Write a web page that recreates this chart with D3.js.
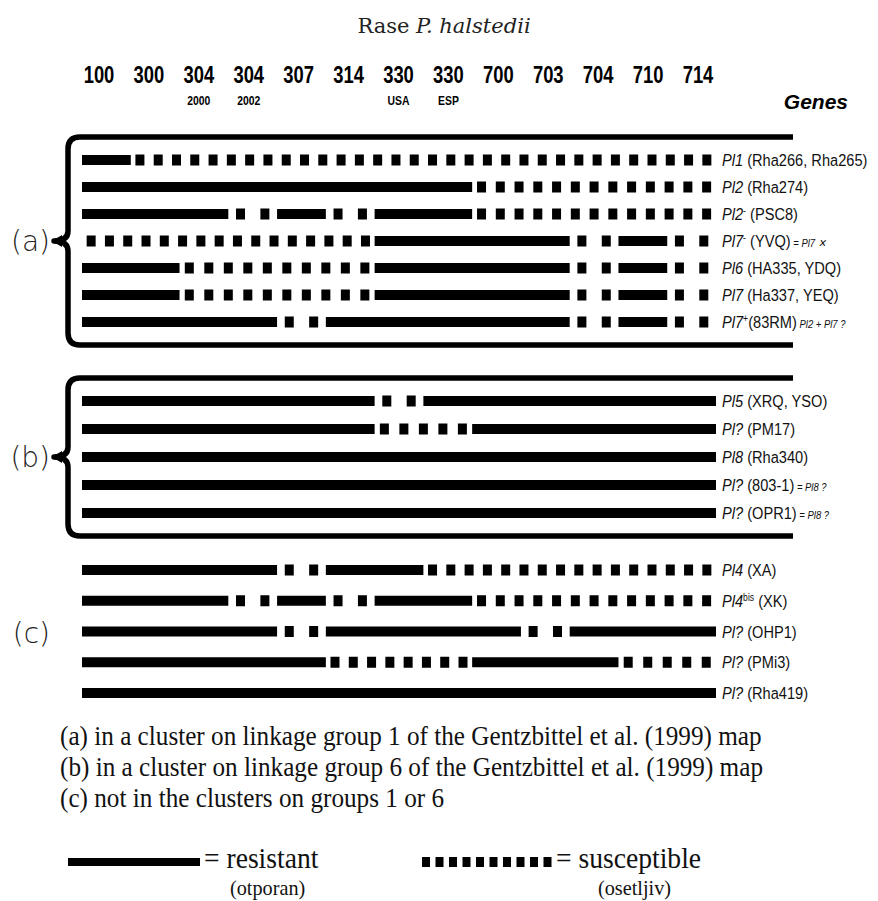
<html>
  <head>
    <meta charset="UTF-8">
    <title>Rase P. halstedii</title>
    <script src="https://cdnjs.cloudflare.com/ajax/libs/d3/7.8.5/d3.min.js"></script>
    <style>
      body { margin: 0; background: #fff; }
      svg { display: block; }
      .race { font-family: 'Liberation Sans', Arial, sans-serif; font-weight: bold; }
      .gene { font-family: 'Liberation Sans', Arial, sans-serif; fill: #111; }
      .serif { font-family: 'Liberation Serif', 'Times New Roman', serif; fill: #111; }
      .grp { font-family: 'DejaVu Sans', sans-serif; font-weight: 300; fill: #222; }
    </style>
  </head>
  <body>
    <svg id="chart"></svg>
    <script>
      // races of P. halstedii (columns)
      const races = ['100', '300', '304', '304', '307', '314', '330', '330', '700', '703', '704', '710', '714']
      const raceSub = ['', '', '2000', '2002', '', '', 'USA', 'ESP', '', '', '', '', '']

      // genes (rows)
      const genes = ['Pl1', 'Pl2', 'Pl2', 'Pl7', 'Pl6', 'Pl7', 'Pl7', 'Pl5', 'Pl?', 'Pl8', 'Pl?', 'Pl?', 'Pl4', 'Pl4', 'Pl?', 'Pl?', 'Pl?']
      const geneSup = ['', '', '-', '-', '', '', '+', '', '', '', '', '', '', 'bis', '', '', '']
      const sources = ['(Rha266, Rha265)', '(Rha274)', '(PSC8)', '(YVQ)', '(HA335, YDQ)', '(Ha337, YEQ)', '(83RM)',
        '(XRQ, YSO)', '(PM17)', '(Rha340)', '(803-1)', '(OPR1)',
        '(XA)', '(XK)', '(OHP1)', '(PMi3)', '(Rha419)']
      const notes = ['', '', '', '= Pl7 \u2715', '', '', 'Pl2 + Pl7 ?', '', '', '', '= Pl8 ?', '= Pl8 ?', '', '', '', '', '']
      const geneGroup = ['a', 'a', 'a', 'a', 'a', 'a', 'a', 'b', 'b', 'b', 'b', 'b', 'c', 'c', 'c', 'c', 'c']

      // R = resistant, S = susceptible, one letter per race
      const reactions = [
        'RSSSSSSSSSSSS',
        'RRRRRRRRSSSSS',
        'RRRSRSRRSSSSS',
        'SSSSSSRRRRSRS',
        'RRSSSSRRRRSRS',
        'RRSSSSRRRRSRS',
        'RRRRSRRRRRSRS',
        'RRRRRRSRRRRRR',
        'RRRRRRSSRRRRR',
        'RRRRRRRRRRRRR',
        'RRRRRRRRRRRRR',
        'RRRRRRRRRRRRR',
        'RRRRSRRSSSSSS',
        'RRRSRSRRSSSSS',
        'RRRRSRRRRSRRR',
        'RRRRRSSSRRRSS',
        'RRRRRRRRRRRRR'
      ]

      const groups = ['a', 'b', 'c']
      const groupRange = { a: [160, 322], b: [401, 513], c: [570, 693] }
      const bracketed = { a: true, b: true, c: false }

      const footnotes = [
        '(a) in a cluster on linkage group 1 of the Gentzbittel et al. (1999) map',
        '(b) in a cluster on linkage group 6 of the Gentzbittel et al. (1999) map',
        '(c) not in the clusters on groups 1 or 6'
      ]

      const width = 878
      const height = 901

      const svg = d3.select('#chart')
        .attr('width', width)
        .attr('height', height)

      const idx = d3.range(races.length)
      const x = d3.scaleBand().domain(idx).range([82, 716])
      const xLabel = d3.scalePoint().domain(idx).range([99, 698])

      const yScales = {}
      groups.forEach(g => {
        const rows = d3.range(genes.length).filter(i => geneGroup[i] === g)
        yScales[g] = d3.scalePoint().domain(rows).range(groupRange[g])
      })
      const yOf = i => yScales[geneGroup[i]](i)

      // title
      const title = svg.append('text')
        .attr('x', 444).attr('y', 33)
        .attr('text-anchor', 'middle')
        .style('font-family', "'DejaVu Serif', serif")
        .style('font-size', '21px')
        .style('fill', '#222')
      title.append('tspan').text('Rase ')
      title.append('tspan').style('font-style', 'italic').text('P. halstedii')

      // race header
      svg.selectAll('.race-num')
        .data(idx)
        .enter().append('text')
        .attr('class', 'race')
        .attr('transform', d => `translate(${xLabel(d)}, 83) scale(0.8, 1)`)
        .attr('text-anchor', 'middle')
        .style('font-size', '23px')
        .text(d => races[d])

      svg.selectAll('.race-sub')
        .data(idx.filter(d => raceSub[d]))
        .enter().append('text')
        .attr('class', 'race')
        .attr('transform', d => `translate(${xLabel(d)}, 105) scale(0.8, 1)`)
        .attr('text-anchor', 'middle')
        .style('font-size', '13px')
        .text(d => raceSub[d])

      svg.append('text')
        .attr('class', 'race')
        .attr('x', 848).attr('y', 109)
        .attr('text-anchor', 'end')
        .style('font-size', '21px')
        .style('font-style', 'italic')
        .text('Genes')

      // brackets and group letters
      groups.forEach(g => {
        const [y0, y1] = groupRange[g]
        const top = y0 - 23
        const bot = y1 + 23
        const mid = (top + bot) / 2
        if (bracketed[g]) {
          const p = d3.path()
          p.moveTo(793, top)
          p.lineTo(80, top)
          p.quadraticCurveTo(68, top, 68, top + 12)
          p.lineTo(68, mid - 10)
          p.quadraticCurveTo(68, mid, 54, mid)
          p.quadraticCurveTo(68, mid, 68, mid + 10)
          p.lineTo(68, bot - 12)
          p.quadraticCurveTo(68, bot, 80, bot)
          p.lineTo(793, bot)
          svg.append('path')
            .attr('d', p.toString())
            .attr('fill', 'none')
            .attr('stroke', '#000')
            .attr('stroke-width', 5.5)
            .attr('stroke-linejoin', 'round')
          svg.append('path')
            .attr('d', `M52,${mid} L62,${mid - 6} L62,${mid + 6} Z`)
            .attr('fill', '#000')
        }
        svg.append('text')
          .attr('class', 'grp')
          .attr('x', 50)
          .attr('y', (g === 'c' ? (y0 + y1) / 2 + 1 : mid) + 10)
          .attr('text-anchor', 'end')
          .style('font-size', '28px')
          .text(`(${g})`)
      })

      // runs of equal reaction per gene
      const runs = []
      reactions.forEach((r, row) => {
        let start = 0
        for (let c = 1; c <= r.length; c++) {
          if (c === r.length || r[c] !== r[start]) {
            runs.push({ row, type: r[start], from: start, to: c - 1 })
            start = c
          }
        }
      })

      svg.selectAll('.res')
        .data(runs.filter(d => d.type === 'R'))
        .enter().append('rect')
        .attr('x', d => x(d.from))
        .attr('width', d => x(d.to) + x.bandwidth() - x(d.from))
        .attr('y', d => yOf(d.row) - 5)
        .attr('height', 10)
        .attr('fill', '#000')

      // susceptible runs: evenly spaced squares inside the run
      const squares = []
      runs.filter(d => d.type === 'S').forEach(d => {
        const x0 = x(d.from)
        const x1 = x(d.to) + x.bandwidth()
        const n = Math.max(1, Math.floor((x1 - x0) / 18))
        const step = (x1 - x0) / n
        d3.range(n).forEach(k => squares.push({ row: d.row, cx: x0 + step * (k + 0.5) }))
      })

      svg.selectAll('.sus')
        .data(squares)
        .enter().append('rect')
        .attr('x', d => d.cx - 4.5)
        .attr('width', 9)
        .attr('y', d => yOf(d.row) - 5.5)
        .attr('height', 11)
        .attr('fill', '#000')

      // gene labels
      const labels = svg.selectAll('.gene')
        .data(d3.range(genes.length))
        .enter().append('text')
        .attr('class', 'gene')
        .attr('transform', d => `translate(722, ${yOf(d) + 6}) scale(0.86, 1)`)
        .style('font-size', '17px')

      labels.append('tspan')
        .style('font-style', 'italic')
        .text(d => genes[d])
      labels.filter(d => geneSup[d]).append('tspan')
        .attr('dy', -6)
        .style('font-size', '10px')
        .text(d => geneSup[d])
      labels.append('tspan')
        .attr('dy', d => geneSup[d] ? 6 : 0)
        .text(d => (geneSup[d] === '+' ? '' : ' ') + sources[d])
      labels.filter(d => notes[d]).append('tspan')
        .style('font-size', '11px')
        .style('font-style', 'italic')
        .text(d => ' ' + notes[d])

      // footnotes
      svg.selectAll('.foot')
        .data(footnotes)
        .enter().append('text')
        .attr('class', 'serif')
        .attr('transform', (d, i) => `translate(60, ${745 + i * 31}) scale(0.9, 1)`)
        .style('font-size', '28px')
        .text(d => d)

      // legend
      svg.append('rect')
        .attr('x', 68).attr('y', 858).attr('width', 132).attr('height', 8)
        .attr('fill', '#000')
      svg.append('text').attr('class', 'serif')
        .attr('transform', 'translate(204, 868) scale(0.92, 1)')
        .style('font-size', '30px').text('= resistant')
      svg.append('text').attr('class', 'serif')
        .attr('transform', 'translate(230, 895) scale(0.92, 1)')
        .style('font-size', '22px').text('(otporan)')

      svg.selectAll('.leg-sq')
        .data(d3.range(10))
        .enter().append('rect')
        .attr('x', d => 422 + d * 13.5)
        .attr('width', 8)
        .attr('y', 857)
        .attr('height', 10)
        .attr('fill', '#000')
      svg.append('text').attr('class', 'serif')
        .attr('transform', 'translate(556, 868) scale(0.92, 1)')
        .style('font-size', '30px').text('= susceptible')
      svg.append('text').attr('class', 'serif')
        .attr('transform', 'translate(598, 895) scale(0.92, 1)')
        .style('font-size', '22px').text('(osetljiv)')
    </script>
  </body>
</html>
